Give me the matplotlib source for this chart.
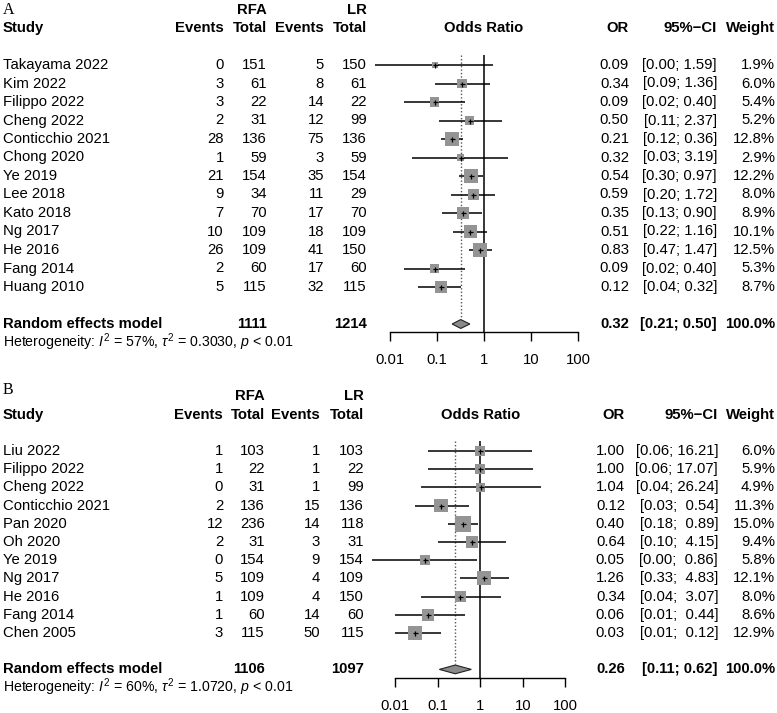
import matplotlib
matplotlib.use("Agg")
import matplotlib.pyplot as plt
from matplotlib.transforms import blended_transform_factory
import numpy as np

plt.rcParams['font.family'] = ['Liberation Sans', 'DejaVu Sans']
plt.rcParams['mathtext.fontset'] = 'custom'
plt.rcParams['mathtext.rm'] = 'Liberation Sans'
plt.rcParams['mathtext.it'] = 'Liberation Sans:italic'
plt.rcParams['mathtext.bf'] = 'Liberation Sans:bold'

# ---------------- Data: panel A ----------------
studies_A = ["Takayama 2022", "Kim 2022", "Filippo 2022", "Cheng 2022", "Conticchio 2021",
             "Chong 2020", "Ye 2019", "Lee 2018", "Kato 2018", "Ng 2017", "He 2016",
             "Fang 2014", "Huang 2010"]
ev_rfa_A = [0, 3, 3, 2, 28, 1, 21, 9, 7, 10, 26, 2, 5]
tot_rfa_A = [151, 61, 22, 31, 136, 59, 154, 34, 70, 109, 109, 60, 115]
ev_lr_A = [5, 8, 14, 12, 75, 3, 35, 11, 17, 18, 41, 17, 32]
tot_lr_A = [150, 61, 22, 99, 136, 59, 154, 29, 70, 109, 150, 60, 115]
or_A = [0.09, 0.34, 0.09, 0.50, 0.21, 0.32, 0.54, 0.59, 0.35, 0.51, 0.83, 0.09, 0.12]
lo_A = [0.0049, 0.09, 0.02, 0.11, 0.12, 0.03, 0.30, 0.20, 0.13, 0.22, 0.47, 0.02, 0.04]
hi_A = [1.59, 1.36, 0.40, 2.37, 0.36, 3.19, 0.97, 1.72, 0.90, 1.16, 1.47, 0.40, 0.32]
wt_A = [1.9, 6.0, 5.4, 5.2, 12.8, 2.9, 12.2, 8.0, 8.9, 10.1, 12.5, 5.3, 8.7]
pooled_A = (0.32, 0.21, 0.50)
totals_A = (1111, 1214)
het_A = r"Heterogeneity: $I^2$ = 57%, $\tau^2$ = 0.3030, $p$ < 0.01"

# ---------------- Data: panel B ----------------
studies_B = ["Liu 2022", "Filippo 2022", "Cheng 2022", "Conticchio 2021", "Pan 2020",
             "Oh 2020", "Ye 2019", "Ng 2017", "He 2016", "Fang 2014", "Chen 2005"]
ev_rfa_B = [1, 1, 0, 2, 12, 2, 0, 5, 1, 1, 3]
tot_rfa_B = [103, 22, 31, 136, 236, 31, 154, 109, 109, 60, 115]
ev_lr_B = [1, 1, 1, 15, 14, 3, 9, 4, 4, 14, 50]
tot_lr_B = [103, 22, 99, 136, 118, 31, 154, 109, 150, 60, 115]
or_B = [1.00, 1.00, 1.04, 0.12, 0.40, 0.64, 0.05, 1.26, 0.34, 0.06, 0.03]
lo_B = [0.06, 0.06, 0.04, 0.03, 0.18, 0.10, 0.0029, 0.33, 0.04, 0.01, 0.01]
hi_B = [16.21, 17.07, 26.24, 0.54, 0.89, 4.15, 0.86, 4.83, 3.07, 0.44, 0.12]
wt_B = [6.0, 5.9, 4.9, 11.3, 15.0, 9.4, 5.8, 12.1, 8.0, 8.6, 12.9]
pooled_B = (0.26, 0.11, 0.62)
totals_B = (1106, 1097)
het_B = r"Heterogeneity: $I^2$ = 60%, $\tau^2$ = 1.0720, $p$ < 0.01"

tick_vals = [0.01, 0.1, 1, 10, 100]
tick_labels = ["0.01", "0.1", "1", "10", "100"]

W, H = 777, 713
fig = plt.figure(figsize=(W / 100, H / 100), dpi=100)
fig.patch.set_facecolor("white")

FS = 10.7
FS_HET = 10.2
SQ_COL = "#949494"


def make_axes(left, right, ptop, pbot, y0, sp):
    ax = fig.add_axes([left / W, 1 - pbot / H, (right - left) / W, (pbot - ptop) / H])
    ax.set_xscale("log")
    ax.set_xlim(0.01, 100)
    ax.set_ylim((pbot - y0) / sp, (ptop - y0) / sp)
    ax.patch.set_alpha(0)
    for s in ["top", "left", "right"]:
        ax.spines[s].set_visible(False)
    ax.set_yticks([])
    ax.minorticks_off()
    return ax


def draw_panel(ax, label, label_row, cols, studies, e1, n1, e2, n2, orv, lo, hi, wt,
               pooled, totals, het, axis_row, pad_ci):
    tr = blended_transform_factory(fig.transFigure, ax.transData)
    n = len(studies)
    r_pool = n + 1
    # header
    ax.text(3 / W, label_row, label, transform=tr, fontsize=11.5, family="Liberation Serif",
            va="center", ha="left")
    ax.text(cols["t1"] / W, -3, "RFA", transform=tr, fontsize=FS, weight="bold", ha="right", va="center")
    ax.text(cols["t2"] / W, -3, "LR", transform=tr, fontsize=FS, weight="bold", ha="right", va="center")
    ax.text(3 / W, -2, "Study", transform=tr, fontsize=FS, weight="bold", ha="left", va="center")
    for key, txt in [("e1", "Events"), ("t1", "Total"), ("e2", "Events"), ("t2", "Total"),
                     ("or", "OR"), ("ci", "95%\u2212CI"), ("w", "Weight")]:
        ax.text(cols[key] / W, -2, txt, transform=tr, fontsize=FS, weight="bold", ha="right", va="center")
    ax.text(1, -2, "Odds Ratio", fontsize=FS, weight="bold", ha="center", va="center")

    # study rows
    up_strs = [f"{h:.2f}" for h in hi]
    wmax = max(len(s) for s in up_strs) if pad_ci else 0
    for i in range(n):
        ax.text(3 / W, i, studies[i], transform=tr, fontsize=FS, ha="left", va="center")
        for key, v in [("e1", e1[i]), ("t1", n1[i]), ("e2", e2[i]), ("t2", n2[i])]:
            ax.text(cols[key] / W, i, str(v), transform=tr, fontsize=FS, ha="right", va="center")
        ax.text(cols["or"] / W, i, f"{orv[i]:.2f}", transform=tr, fontsize=FS, ha="right", va="center")
        ci = f"[{lo[i]:.2f}; {up_strs[i].rjust(wmax)}]"
        ax.text(cols["ci"] / W, i, ci, transform=tr, fontsize=FS, ha="right", va="center")
        ax.text(cols["w"] / W, i, f"{wt[i]:.1f}%", transform=tr, fontsize=FS, ha="right", va="center")

    rows = np.arange(n)
    # CI lines
    ax.hlines(rows, lo, hi, color="black", lw=1.1, zorder=2, clip_on=False)
    # squares (side proportional to sqrt(weight))
    side_pt = 4.0 * np.sqrt(np.array(wt)) * 0.72
    ax.scatter(orv, rows, s=side_pt ** 2, marker="s", color=SQ_COL, linewidths=0, zorder=3, clip_on=False)
    ax.plot(orv, rows, linestyle="none", marker="+", markersize=3.6, mew=0.9, color="black",
            zorder=4, clip_on=False)

    # reference line at 1 and dotted pooled line
    ax.vlines(1, -0.55, axis_row, color="black", lw=1.1, zorder=1)
    ax.vlines(pooled[0], -0.55, r_pool - 0.3, color="#555555", lw=1.0, linestyles=(0, (1, 1.5)), zorder=1)

    # diamond
    h = 0.24
    ax.fill([pooled[1], pooled[0], pooled[2], pooled[0]],
            [r_pool, r_pool - h, r_pool, r_pool + h],
            facecolor="#8a8a8a", edgecolor="#222222", lw=0.8, zorder=3)

    # pooled row text
    ax.text(3 / W, r_pool, "Random effects model", transform=tr, fontsize=FS, weight="bold", ha="left", va="center")
    ax.text(cols["t1"] / W, r_pool, str(totals[0]), transform=tr, fontsize=FS, weight="bold", ha="right", va="center")
    ax.text(cols["t2"] / W, r_pool, str(totals[1]), transform=tr, fontsize=FS, weight="bold", ha="right", va="center")
    ax.text(cols["or"] / W, r_pool, f"{pooled[0]:.2f}", transform=tr, fontsize=FS, weight="bold", ha="right", va="center")
    ax.text(cols["ci"] / W, r_pool, f"[{pooled[1]:.2f}; {pooled[2]:.2f}]", transform=tr, fontsize=FS,
            weight="bold", ha="right", va="center")
    ax.text(cols["w"] / W, r_pool, "100.0%", transform=tr, fontsize=FS, weight="bold", ha="right", va="center")
    ax.text(3 / W, r_pool + 1, het, transform=tr, fontsize=FS_HET, ha="left", va="center")

    # x axis
    ax.spines["bottom"].set_position(("data", axis_row))
    ax.spines["bottom"].set_linewidth(1.0)
    ax.set_xticks(tick_vals)
    ax.set_xticklabels(tick_labels, fontsize=FS)
    ax.tick_params(axis="x", direction="out", length=6.5, width=1.0, pad=8.5)


# Panel A
yA0, spA = 65.0, 18.5
axA = make_axes(390, 578, 0, 370, yA0, spA)
colsA = {"e1": 224, "t1": 267, "e2": 324, "t2": 367, "or": 629, "ci": 717, "w": 775}
draw_panel(axA, "A", -3, colsA, studies_A, ev_rfa_A, tot_rfa_A, ev_lr_A, tot_lr_A,
           or_A, lo_A, hi_A, wt_A, pooled_A, totals_A, het_A, (331.7 - yA0) / spA, False)

# Panel B
yB0, spB = 451.0, 18.2
axB = make_axes(395, 565.3, 375, 713, yB0, spB)
colsB = {"e1": 223, "t1": 265, "e2": 320, "t2": 364, "or": 625, "ci": 718, "w": 775}
draw_panel(axB, "B", -3.35, colsB, studies_B, ev_rfa_B, tot_rfa_B, ev_lr_B, tot_lr_B,
           or_B, lo_B, hi_B, wt_B, pooled_B, totals_B, het_B, (678.3 - yB0) / spB, True)

fig.savefig("out.png", dpi=100, facecolor="white")
